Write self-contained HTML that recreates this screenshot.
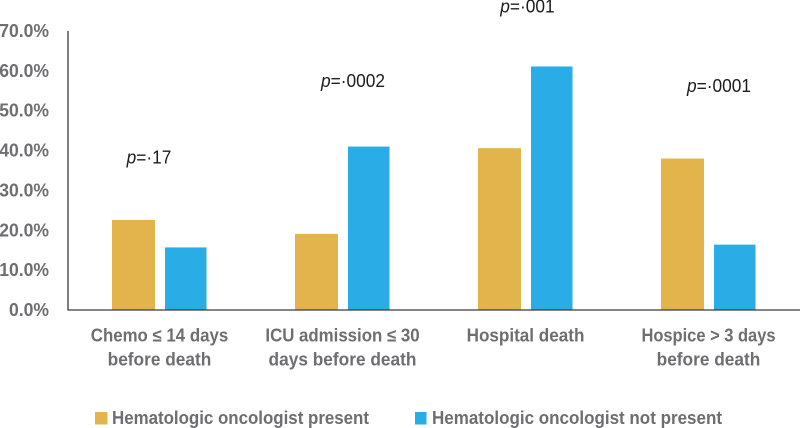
<!DOCTYPE html>
<html lang="en">
<head>
<meta charset="utf-8">
<title>End-of-life care outcomes</title>
<style>
html,body{margin:0;padding:0;background:#fff;}
svg{display:block;}
text{font-family:"Liberation Sans",sans-serif;}
.lbl{font-weight:700;fill:#6e6e72;font-size:18px;}
.pv{font-size:18px;fill:#1c1c1c;}
</style>
</head>
<body>
<svg id="chart" width="800" height="428" viewBox="0 0 800 428" xmlns="http://www.w3.org/2000/svg">
  <g id="bars"></g>
  <line x1="68" y1="31" x2="68" y2="310.5" stroke="#3a3a3a" stroke-width="1.3"/>
  <line x1="67.5" y1="310" x2="800" y2="310" stroke="#3a3a3a" stroke-width="1.3"/>
  <g id="yticks"></g>
  <g id="xlabels"></g>
  <g id="pvalues"></g>
  <g>
    <g>
      <rect x="95" y="412" width="12.5" height="12.5" fill="#E2B44B"/>
      <text class="lbl" x="112" y="424" textLength="257" lengthAdjust="spacingAndGlyphs">Hematologic oncologist present</text>
    </g>
    <g>
      <rect x="415" y="412" width="11.5" height="12.5" fill="#2AACE6"/>
      <text class="lbl" x="432" y="424" textLength="290" lengthAdjust="spacingAndGlyphs">Hematologic oncologist not present</text>
    </g>
  </g>
</svg>
<script>
const categories = [
  ["Chemo ≤ 14 days", "before death"],
  ["ICU admission ≤ 30", "days before death"],
  ["Hospital death"],
  ["Hospice > 3 days", "before death"]
];
const presentValues = [22.6, 19.1, 40.6, 38.0];
const notPresentValues = [15.7, 41.0, 61.1, 16.4];
const yTickValues = [0, 10, 20, 30, 40, 50, 60, 70];
const pValues = ["=·17", "=·0002", "=·001", "=·0001"];
const pValueHeights = [36.8, 56.0, 74.6, 54.7];

const NS = "http://www.w3.org/2000/svg";
const plotLeft = 68, plotRight = 800, plotBottom = 310, plotTop = 31, yMax = 70;
const bandWidth = (plotRight - plotLeft) / categories.length;

function yScale(v) { return plotBottom - (v / yMax) * (plotBottom - plotTop); }
function xCenter(i) { return plotLeft + bandWidth * (i + 0.5); }

function make(tag, attrs, parent) {
  const el = document.createElementNS(NS, tag);
  for (const k in attrs) el.setAttribute(k, attrs[k]);
  parent.appendChild(el);
  return el;
}
function squeeze(el, factor) {
  el.setAttribute("textLength", (el.getComputedTextLength() * factor).toFixed(1));
  el.setAttribute("lengthAdjust", "spacingAndGlyphs");
}

const barsG = document.getElementById("bars");
const ticksG = document.getElementById("yticks");
const labelsG = document.getElementById("xlabels");
const pG = document.getElementById("pvalues");

categories.forEach(function (lines, i) {
  const c = xCenter(i);
  const a = make("rect", {
    x: c - 47.5, y: yScale(presentValues[i]), width: 43,
    height: plotBottom - yScale(presentValues[i]), fill: "#E2B44B"
  }, barsG);
  
  

  const b = make("rect", {
    x: c + 5.5, y: yScale(notPresentValues[i]), width: 41.5,
    height: plotBottom - yScale(notPresentValues[i]), fill: "#2AACE6"
  }, barsG);
  
  

  lines.forEach(function (line, j) {
    const t = make("text", { x: c, y: 341.5 + j * 24, "text-anchor": "middle", "class": "lbl" }, labelsG);
    t.textContent = line;
    
    
    const fit = j === 1 ? 0.96 : (i === 2 ? 0.95 : (i === 3 ? 0.915 : 0.935));
    squeeze(t, fit);
  });

  const p = make("text", { x: c + [-10.5, 10.5, 2, 10.5][i], y: yScale(pValueHeights[i]), "text-anchor": "middle", "class": "pv" }, pG);
  
  
  const it = make("tspan", { "font-style": "italic" }, p);
  it.textContent = "p";
  const rest = make("tspan", {}, p);
  rest.textContent = pValues[i];
  squeeze(p, 0.961);
});

yTickValues.forEach(function (v) {
  const t = make("text", { x: 49, y: yScale(v) + 6, "text-anchor": "end", "class": "lbl" }, ticksG);
  t.textContent = v.toFixed(1) + "%";
  
  
  squeeze(t, 0.975);
});
</script>
</body>
</html>
